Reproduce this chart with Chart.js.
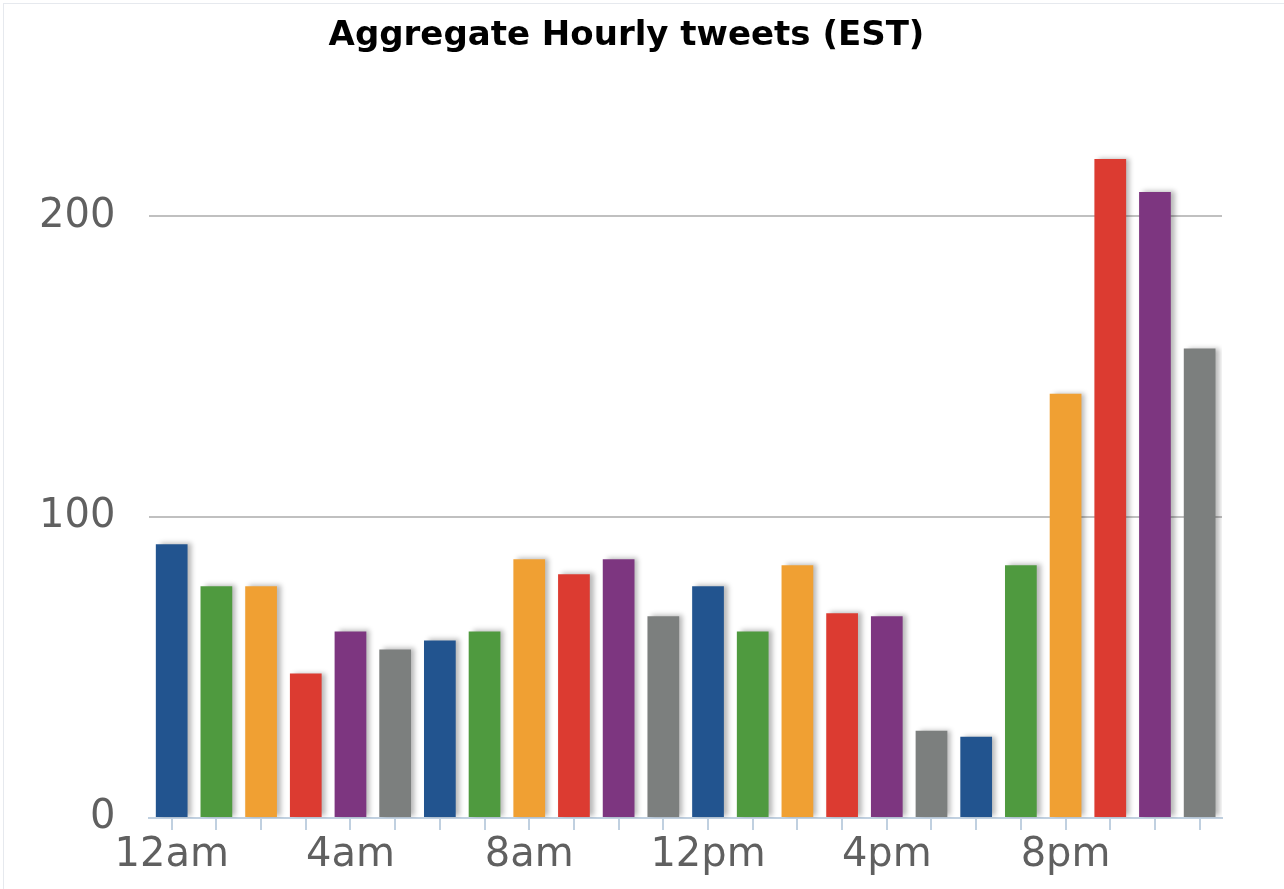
<!DOCTYPE html>
<html>
<head>
<meta charset="utf-8">
<script src="https://cdn.jsdelivr.net/npm/chart.js@4"></script>
<style>
  html, body { margin: 0; padding: 0; background: #fff; }
  #wrap { position: absolute; left: 3px; top: 3px; width: 1281px; height: 886px;
          border-left: 1px solid #e6e9ee; border-top: 1px solid #e6e9ee; box-sizing: border-box; }
</style>
</head>
<body>
<div id="wrap"><canvas id="hourlyChart"></canvas></div>
<script>
// hours of the day (EST), one bar each
const hours = ['12am','1am','2am','3am','4am','5am','6am','7am','8am','9am','10am','11am',
               '12pm','1pm','2pm','3pm','4pm','5pm','6pm','7pm','8pm','9pm','10pm','11pm'];

// tweets per hour
const tweets = [91, 77, 77, 48, 62, 56, 59, 62, 86, 81, 86, 67,
                77, 62, 84, 68, 67, 29, 27, 84, 141, 219, 208, 156];

// colour cycle used by the bars
const palette = ['#22548f', '#4f9a3f', '#f0a033', '#dc3b31', '#7d3680', '#7c7f7e'];

const yTicks = [0, 100, 200];

// gray drop shadow behind the bars (like the original)
const barShadow = {
    id: 'barShadow',
    beforeDatasetsDraw(chart) {
        const ctx = chart.ctx;
        ctx.save();
        ctx.shadowColor = 'rgba(0,0,0,0.28)';
        ctx.shadowBlur = 5;
        ctx.shadowOffsetX = 4;
        ctx.shadowOffsetY = -1;
    },
    afterDatasetsDraw(chart) {
        chart.ctx.restore();
    }
};

const ctx = document.getElementById('hourlyChart').getContext('2d');

new Chart(ctx, {
    type: 'bar',
    data: {
        labels: hours,
        datasets: [{
            data: tweets,
            backgroundColor: hours.map((h, i) => palette[i % palette.length]),
            borderWidth: 0,
            categoryPercentage: 1,
            barPercentage: 0.71
        }]
    },
    plugins: [barShadow],
    options: {
        responsive: true,
        maintainAspectRatio: false,
        animation: false,
        layout: {
            padding: { top: 8, right: 36, left: 1, bottom: 7 }
        },
        plugins: {
            legend: { display: false },
            tooltip: { enabled: false },
            title: {
                display: true,
                text: 'Aggregate Hourly tweets (EST)',
                color: '#000',
                font: { family: 'DejaVu Sans', size: 34, weight: 'bold' },
                padding: { top: 4, bottom: 60 }
            }
        },
        scales: {
            x: {
                grid: {
                    display: true,
                    drawOnChartArea: false,
                    offset: false,
                    color: '#c0d0e0',
                    lineWidth: 2,
                    tickLength: 12
                },
                border: { color: '#c0d0e0', width: 2 },
                ticks: {
                    autoSkip: false,
                    maxRotation: 0,
                    color: '#606060',
                    padding: 2,
                    font: { family: 'DejaVu Sans', size: 40 },
                    callback: function (val, i) {
                        return i % 4 === 0 ? hours[i] : '';
                    }
                }
            },
            y: {
                min: 0,
                max: 233,
                afterBuildTicks: (scale) => {
                    scale.ticks = yTicks.map(v => ({ value: v }));
                },
                grid: {
                    drawTicks: false,
                    color: (c) => c.tick && c.tick.value === 0 ? 'rgba(0,0,0,0)' : '#c0c0c0',
                    lineWidth: 2
                },
                border: { display: false },
                ticks: {
                    color: '#606060',
                    padding: 34,
                    font: { family: 'DejaVu Sans', size: 40 }
                }
            },
            // empty right-hand strip so the title sits where it does in the original
            yRight: {
                position: 'right',
                grid: { display: false },
                border: { display: false },
                ticks: { display: false },
                afterFit: (scale) => { scale.width = 26; }
            }
        }
    }
});
</script>
</body>
</html>
